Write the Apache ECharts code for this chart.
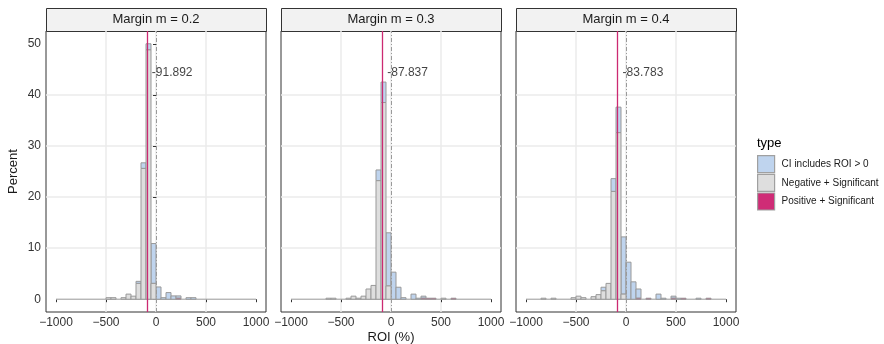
<!DOCTYPE html>
<html>
<head>
<meta charset="utf-8">
<script src="https://cdn.jsdelivr.net/npm/echarts@6.0.0/dist/echarts.min.js"></script>
<style>
html, body { margin: 0; padding: 0; background: #fff; }
#main { width: 884px; height: 344px; }
</style>
</head>
<body>
<div id="main"></div>
<script>
const myChart = echarts.init(document.querySelector('#main'));

const facets = ['Margin m = 0.2', 'Margin m = 0.3', 'Margin m = 0.4'];
const types = ['CI includes ROI > 0', 'Negative + Significant', 'Positive + Significant'];
const xTicks = [-1000, -500, 0, 500, 1000];
const yTicks = [0, 10, 20, 30, 40, 50];
const binStart = -1000;
const binWidth = 50;
const binCount = 40;
const means = [-91.892, -87.837, -83.783];
const labelY = 44.3;

// [bin start, CI includes ROI > 0, Negative + Significant, Positive + Significant] (percent)
const m02 = [
    [-500, 0, 0.3, 0], [-450, 0, 0.3, 0], [-350, 0, 0.3, 0], [-300, 0, 1.0, 0],
    [-250, 0, 0.6, 0], [-200, 0.4, 3.1, 0], [-150, 1.1, 25.6, 0], [-100, 1.2, 48.8, 0],
    [-50, 7.8, 3.1, 0], [0, 2.4, 0, 0], [50, 0.3, 0, 0], [100, 1.3, 0, 0],
    [150, 0.65, 0, 0], [200, 0.45, 0, 0.2], [300, 0.3, 0, 0], [350, 0.3, 0, 0]
];
const m03 = [
    [-650, 0, 0.2, 0], [-600, 0, 0.2, 0], [-450, 0, 0.2, 0], [-400, 0, 0.6, 0],
    [-350, 0, 0.2, 0], [-300, 0, 0.6, 0], [-250, 0, 2.0, 0], [-200, 0, 2.7, 0],
    [-150, 2.1, 23.2, 0], [-100, 4.0, 38.5, 0], [-50, 10.4, 2.6, 0], [0, 5.3, 0, 0],
    [50, 2.35, 0, 0], [100, 0.3, 0, 0], [200, 1.0, 0, 0], [250, 0.2, 0, 0],
    [300, 0.4, 0, 0.2], [350, 0, 0, 0.2], [400, 0, 0, 0.2], [500, 0, 0.2, 0],
    [600, 0, 0, 0.2]
];
const m04 = [
    [-850, 0, 0.2, 0], [-750, 0, 0.2, 0], [-550, 0, 0.3, 0], [-500, 0, 0.6, 0],
    [-450, 0, 0.3, 0], [-350, 0, 0.5, 0], [-300, 0, 0.9, 0], [-250, 0.7, 1.65, 0],
    [-200, 0, 3.1, 0], [-150, 2.5, 21.1, 0], [-100, 5.0, 32.6, 0], [-50, 11.2, 1.0, 0],
    [0, 7.25, 0, 0], [50, 3.4, 0, 0], [100, 1.8, 0, 0.2], [200, 0, 0, 0.2],
    [300, 1.0, 0, 0], [350, 0.2, 0, 0], [450, 0.4, 0, 0.2], [500, 0.2, 0, 0],
    [550, 0, 0, 0.2], [700, 0.2, 0, 0], [800, 0, 0, 0.2]
];
const panels = [m02, m03, m04];

const fills = ['#bfd4ee', '#dedede', '#cf2c76'];
const outline = '#999999';
const gridLeft = [46, 281, 516];
const gridTop = 31;
const gridW = 220;
const gridH = 281;
const font = 'Liberation Sans, Arial, sans-serif';
const minus = v => String(v).replace('-', '\u2212');

// stack: Positive at bottom, Negative in the middle, CI on top
function stacked(rows) {
    const out = [[], [], []];
    rows.forEach(r => {
        const x0 = r[0], x1 = r[0] + binWidth;
        const pos = r[3], neg = r[2], ci = r[1];
        if (pos > 0) out[2].push([x0, x1, 0, pos]);
        if (neg > 0) out[1].push([x0, x1, pos, pos + neg]);
        if (ci > 0) out[0].push([x0, x1, pos + neg, pos + neg + ci]);
    });
    return out;
}

const bins = [];
for (let k = 0; k < binCount; k++) bins.push([binStart + k * binWidth, binStart + (k + 1) * binWidth]);

function barItem(params, api) {
    const lo = api.coord([api.value(0), api.value(2)]);
    const hi = api.coord([api.value(1), api.value(3)]);
    return {
        type: 'rect',
        shape: { x: lo[0], y: hi[1], width: hi[0] - lo[0], height: lo[1] - hi[1] },
        style: { fill: api.visual('color'), stroke: outline, lineWidth: 1 }
    };
}

function baseItem(params, api) {
    const a = api.coord([api.value(0), 0]);
    const b = api.coord([api.value(1), 0]);
    return {
        type: 'line',
        shape: { x1: a[0], y1: a[1], x2: b[0], y2: b[1] },
        style: { stroke: '#a8a8a8', lineWidth: 1.2 }
    };
}

const grid = [], xAxis = [], yAxis = [], series = [], graphic = [];

panels.forEach((rows, i) => {
    grid.push({
        left: gridLeft[i], top: gridTop, width: gridW, height: gridH,
        outerBoundsMode: 'none', containLabel: false,
        show: true, backgroundColor: '#fff', borderColor: '#333', borderWidth: 1
    });
    xAxis.push({
        type: 'value', gridIndex: i, min: -1100, max: 1100, splitNumber: 5,
        axisLine: { show: false },
        axisTick: { show: true, length: 3, lineStyle: { color: '#333' }, customValues: xTicks },
        axisLabel: { customValues: xTicks, margin: 5, fontSize: 12, color: '#333', fontFamily: font, formatter: minus },
        splitLine: { show: true, showMinLine: false, showMaxLine: false, lineStyle: { color: '#ebebeb', width: 1.5 } }
    });
    yAxis.push({
        type: 'value', gridIndex: i, min: -2.5, max: 52.5, splitNumber: 5,
        name: i === 0 ? 'Percent' : '', nameLocation: 'middle', nameGap: 26,
        nameTextStyle: { fontSize: 13, color: '#1a1a1a', fontFamily: font },
        axisLine: { show: false },
        axisTick: { show: i === 0, length: 3, lineStyle: { color: '#333' }, customValues: yTicks },
        axisLabel: { show: i === 0, customValues: yTicks, margin: 5, fontSize: 12, color: '#333', fontFamily: font },
        splitLine: { show: true, showMinLine: false, showMaxLine: false, lineStyle: { color: '#ebebeb', width: 1.5 } }
    });

    series.push({
        type: 'custom', xAxisIndex: i, yAxisIndex: i, silent: true, z: 2,
        renderItem: baseItem, data: bins, encode: { x: [0, 1] }
    });
    const st = stacked(rows);
    types.forEach((t, k) => {
        series.push({
            name: t, type: 'custom', xAxisIndex: i, yAxisIndex: i, silent: true, z: 3,
            itemStyle: { color: fills[k], borderColor: outline },
            renderItem: barItem, data: st[k], encode: { x: [0, 1], y: [2, 3] }
        });
    });
    series.push({
        type: 'scatter', xAxisIndex: i, yAxisIndex: i, silent: true, z: 6,
        symbolSize: 0,
        data: [{ value: [means[i], labelY], name: means[i].toFixed(3) }],
        label: {
            show: true, position: 'right', distance: 5, formatter: '{b}',
            fontSize: 12, color: '#111', fontFamily: font
        },
        markLine: {
            silent: true, symbol: ['none', 'none'], animation: false,
            label: { show: false },
            data: [
                { xAxis: 0, lineStyle: { color: '#9a9a9a', type: [4, 2, 1, 2], width: 1 } },
                { xAxis: means[i], lineStyle: { color: '#cc2a72', type: 'solid', width: 1.3 } }
            ]
        }
    });

    graphic.push({
        type: 'rect', left: gridLeft[i], top: 8,
        shape: { width: gridW, height: gridTop - 8 },
        style: { fill: '#f2f2f2', stroke: '#333', lineWidth: 1 }
    });
    graphic.push({
        type: 'text', x: gridLeft[i] + gridW / 2, y: (8 + gridTop) / 2,
        style: { text: facets[i], fill: '#1a1a1a', font: '13px ' + font, align: 'center', verticalAlign: 'middle' }
    });
});

graphic.push({
    type: 'text', x: gridLeft[1] + gridW / 2, y: 337,
    style: { text: 'ROI (%)', fill: '#1a1a1a', font: '13px ' + font, align: 'center', verticalAlign: 'middle' }
});
graphic.push({
    type: 'text', x: 757, y: 143,
    style: { text: 'type', fill: '#000', font: '13px ' + font, verticalAlign: 'middle' }
});

const option = {
    animation: false,
    textStyle: { fontFamily: font },
    grid: grid,
    xAxis: xAxis,
    yAxis: yAxis,
    legend: {
        orient: 'vertical', left: 757, top: 155, padding: 0,
        itemWidth: 17, itemHeight: 17, itemGap: 0.5,
        selectedMode: false, icon: 'rect',
        textStyle: { fontSize: 10, color: '#1a1a1a', fontFamily: font, padding: [0, 0, 0, 2] },
        data: types.map((t, k) => ({
            name: t, itemStyle: { color: fills[k], borderColor: '#a0a0a0', borderWidth: 1.2 }
        }))
    },
    graphic: graphic,
    series: series
};

myChart.setOption(option, true);
</script>
</body>
</html>
